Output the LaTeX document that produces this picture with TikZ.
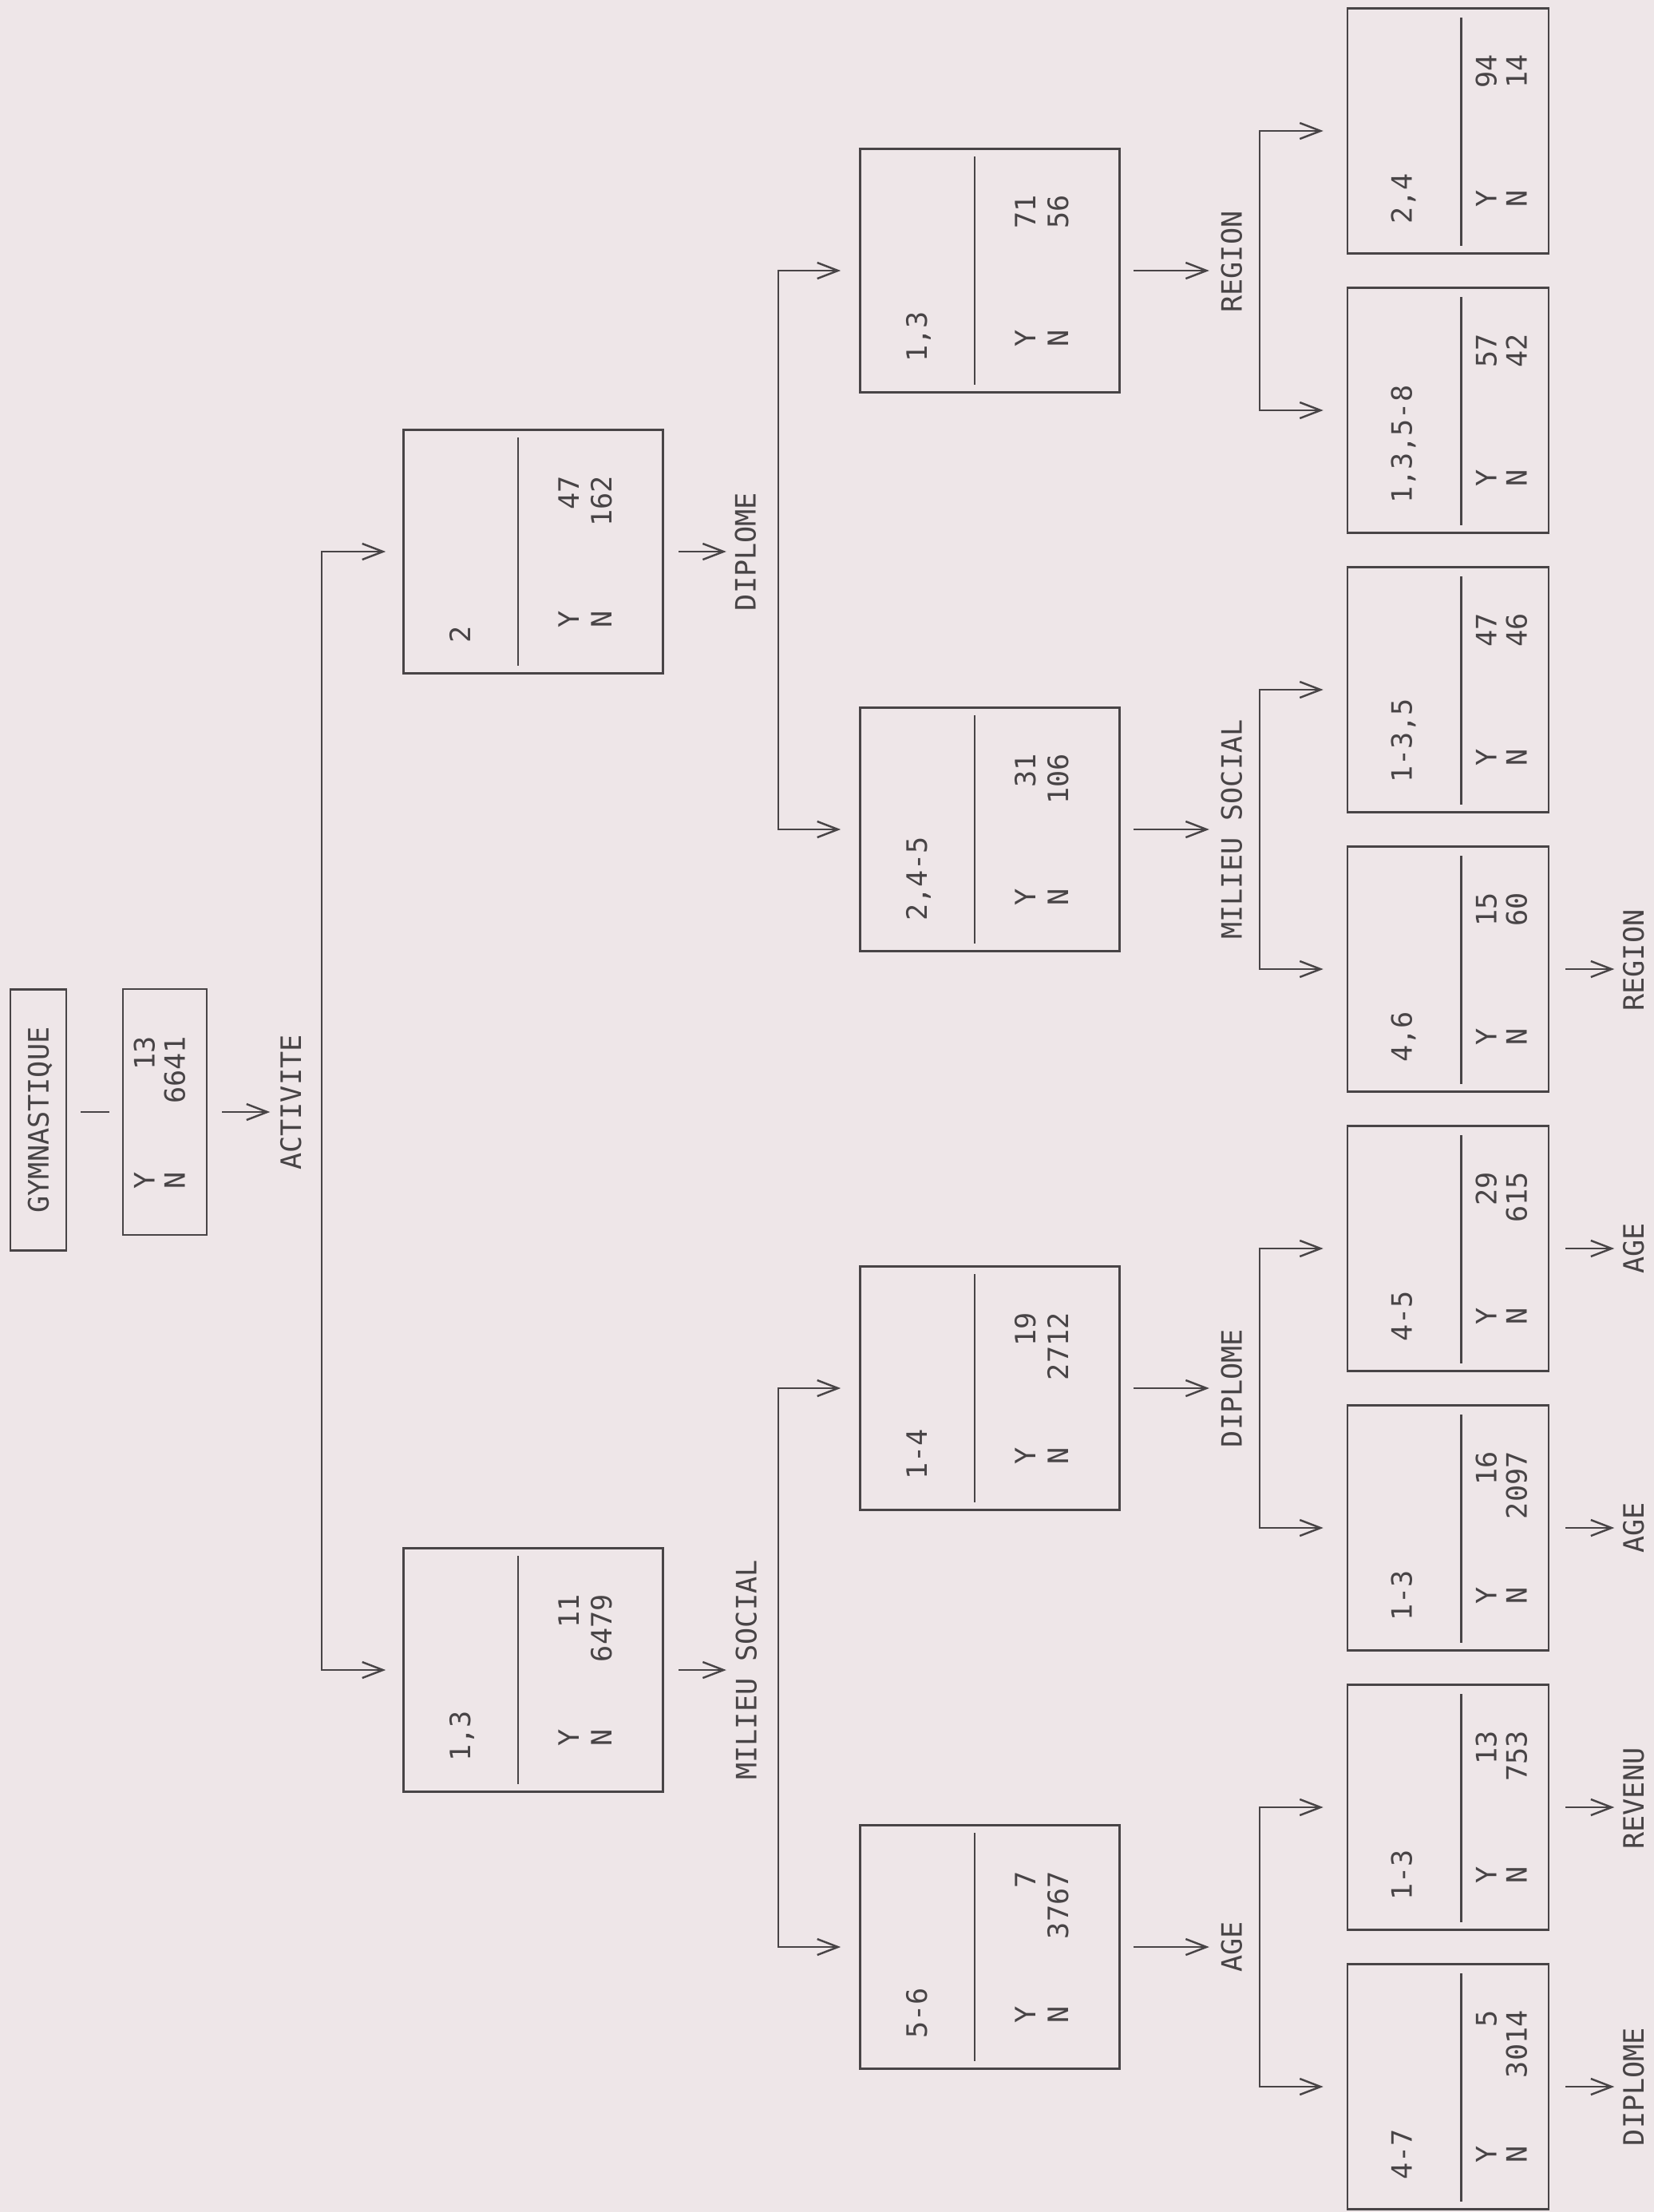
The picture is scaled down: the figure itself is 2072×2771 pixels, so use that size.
\documentclass[tikz,border=0pt]{standalone}
\usepackage{fontspec}
\setmonofont{DejaVu Sans Mono}
\usetikzlibrary{arrows.meta,calc}
\definecolor{paper}{RGB}{238,230,232}
\definecolor{ink}{RGB}{72,68,70}
\tikzset{pin/.style={-{Straight Barb[length=2.6mm,width=2mm]}},
  fork/.style={{Straight Barb[length=2.6mm,width=2mm]}-{Straight Barb[length=2.6mm,width=2mm]}},
  wbox/.style={draw, minimum width=3.25cm, minimum height=3.05cm, inner sep=0pt},
  nbox/.style={draw, minimum width=2.52cm, minimum height=3.07cm, inner sep=0pt},
  txt/.style={rotate=90, inner sep=0pt, text height=0.73em, text depth=0pt}}

% wide cell: name, x, y, set, yes, no
\newcommand{\wcell}[6]{%
  \node[wbox] (#1) at (#2,#3) {};
  \node[txt, anchor=west] (#1-s) at ($(#1.north west)+(72,270)$) {#4};
  \draw ($(#1.north west)+(145,11)$) -- ($(#1.south west)+(145,-11)$);
  \node[txt, anchor=west] (#1-y) at ($(#1.north west)+(208,251)$) {Y};
  \node[txt, anchor=west] (#1-n) at ($(#1.north west)+(249,251)$) {N};
  \node[txt, anchor=east] (#1-yv) at ($(#1.north west)+(208,58)$) {#5};
  \node[txt, anchor=east] (#1-nv) at ($(#1.north west)+(249,58)$) {#6};}
% narrow cell: name, x, y, set, yes, no
\newcommand{\ncell}[6]{%
  \node[nbox] (#1) at (#2,#3) {};
  \node[txt, anchor=west] (#1-s) at ($(#1.north west)+(69,273)$) {#4};
  \draw ($(#1.north west)+(144,13)$) -- ($(#1.south west)+(144,-11)$);
  \node[txt, anchor=west] (#1-y) at ($(#1.north west)+(175,252)$) {Y};
  \node[txt, anchor=west] (#1-n) at ($(#1.north west)+(213,252)$) {N};
  \node[txt, anchor=east] (#1-yv) at ($(#1.north west)+(175,58)$) {#5};
  \node[txt, anchor=east] (#1-nv) at ($(#1.north west)+(213,58)$) {#6};}

\begin{document}
\begin{tikzpicture}[x=0.01cm, y=-0.01cm, line width=0.7pt, color=ink,
    font=\ttfamily\fontsize{10}{12}\selectfont]
  \fill[paper] (0,0) rectangle (2072,2771);

  % root
  \node[draw, txt, inner sep=0pt, minimum width=3.27cm, minimum height=0.70cm] (gym) at (48,1403) {GYMNASTIQUE};
  \node[draw, minimum width=1.05cm, minimum height=3.08cm, inner sep=0pt] (root) at (206.5,1393) {};
  \node[txt, anchor=west] (root-y) at ($(root.north west)+(28,253)$) {Y};
  \node[txt, anchor=west] (root-n) at ($(root.north west)+(66,253)$) {N};
  \node[txt, anchor=east] (root-yv) at ($(root.north west)+(28,59)$) {13};
  \node[txt, anchor=east] (root-nv) at ($(root.north west)+(66,59)$) {6641};
  \coordinate (g0) at ($(gym.south)+(17,0)$);
  \draw (g0 |- root.west) -- ++(36,0);

  % cells
  \wcell{l1a}{668}{691}{2}{47}{162}
  \wcell{l1b}{668}{2092}{1,3}{11}{6479}
  \wcell{l2a}{1240}{339}{1,3}{71}{56}
  \wcell{l2b}{1240}{1039}{2,4-5}{31}{106}
  \wcell{l2c}{1240}{1739}{1-4}{19}{2712}
  \wcell{l2d}{1240}{2439}{5-6}{7}{3767}
  \ncell{l3a}{1814}{164}{2,4}{94}{14}
  \ncell{l3b}{1814}{514}{1,3,5-8}{57}{42}
  \ncell{l3c}{1814}{864}{1-3,5}{47}{46}
  \ncell{l3d}{1814}{1214}{4,6}{15}{60}
  \ncell{l3e}{1814}{1564}{4-5}{29}{615}
  \ncell{l3f}{1814}{1914}{1-3}{16}{2097}
  \ncell{l3g}{1814}{2264}{1-3}{13}{753}
  \ncell{l3h}{1814}{2614}{4-7}{5}{3014}

  % splits
  \draw[pin] ($(root.east)+(18,0)$) -- ($(root.east)+(78,0)$) coordinate (root-v);
  \node[txt] (root-q) at ($(root-v)+(26,-12)$) {ACTIVITE};
  \draw[pin] ($(l1a.east)+(18,0)$) -- ($(l1a.east)+(78,0)$) coordinate (l1a-v);
  \node[txt] (l1a-q) at ($(l1a-v)+(24,0)$) {DIPLOME};
  \draw[pin] ($(l1b.east)+(18,0)$) -- ($(l1b.east)+(78,0)$) coordinate (l1b-v);
  \node[txt] (l1b-q) at ($(l1b-v)+(25,0)$) {MILIEU SOCIAL};
  \draw[pin] ($(l2a.east)+(16,0)$) -- ($(l2a.east)+(111,0)$) coordinate (l2a-v);
  \node[txt] (l2a-q) at ($(l2a-v)+(28,-11)$) {REGION};
  \draw[pin] ($(l2b.east)+(16,0)$) -- ($(l2b.east)+(111,0)$) coordinate (l2b-v);
  \node[txt] (l2b-q) at ($(l2b-v)+(28,0)$) {MILIEU SOCIAL};
  \draw[pin] ($(l2c.east)+(16,0)$) -- ($(l2c.east)+(111,0)$) coordinate (l2c-v);
  \node[txt] (l2c-q) at ($(l2c-v)+(28,0)$) {DIPLOME};
  \draw[pin] ($(l2d.east)+(16,0)$) -- ($(l2d.east)+(111,0)$) coordinate (l2d-v);
  \node[txt] (l2d-q) at ($(l2d-v)+(28,0)$) {AGE};
  \draw[pin] ($(l3d.east)+(20,0)$) -- ($(l3d.east)+(81,0)$) coordinate (l3d-v);
  \node[txt] (l3d-q) at ($(l3d-v)+(24,-11)$) {REGION};
  \draw[pin] ($(l3e.east)+(20,0)$) -- ($(l3e.east)+(81,0)$) coordinate (l3e-v);
  \node[txt] (l3e-q) at ($(l3e-v)+(24,0)$) {AGE};
  \draw[pin] ($(l3f.east)+(20,0)$) -- ($(l3f.east)+(81,0)$) coordinate (l3f-v);
  \node[txt] (l3f-q) at ($(l3f-v)+(24,0)$) {AGE};
  \draw[pin] ($(l3g.east)+(20,0)$) -- ($(l3g.east)+(81,0)$) coordinate (l3g-v);
  \node[txt] (l3g-q) at ($(l3g-v)+(24,-11)$) {REVENU};
  \draw[pin] ($(l3h.east)+(20,0)$) -- ($(l3h.east)+(81,0)$) coordinate (l3h-v);
  \node[txt] (l3h-q) at ($(l3h-v)+(24,0)$) {DIPLOME};

  % forks
  \coordinate (k0) at (403,0);
  \coordinate (k1) at (975,0);
  \coordinate (k2) at (1578,0);
  \draw[fork] ($(l1a.west)+(-21,0)$) -- (k0 |- l1a.west) -- (k0 |- l1b.west) -- ($(l1b.west)+(-21,0)$);
  \draw[fork] ($(l2a.west)+(-23,0)$) -- (k1 |- l2a.west) -- (k1 |- l2b.west) -- ($(l2b.west)+(-23,0)$);
  \draw[fork] ($(l2c.west)+(-23,0)$) -- (k1 |- l2c.west) -- (k1 |- l2d.west) -- ($(l2d.west)+(-23,0)$);
  \draw[fork] ($(l3a.west)+(-29,0)$) -- (k2 |- l3a.west) -- (k2 |- l3b.west) -- ($(l3b.west)+(-29,0)$);
  \draw[fork] ($(l3c.west)+(-29,0)$) -- (k2 |- l3c.west) -- (k2 |- l3d.west) -- ($(l3d.west)+(-29,0)$);
  \draw[fork] ($(l3e.west)+(-29,0)$) -- (k2 |- l3e.west) -- (k2 |- l3f.west) -- ($(l3f.west)+(-29,0)$);
  \draw[fork] ($(l3g.west)+(-29,0)$) -- (k2 |- l3g.west) -- (k2 |- l3h.west) -- ($(l3h.west)+(-29,0)$);
\end{tikzpicture}
\end{document}
